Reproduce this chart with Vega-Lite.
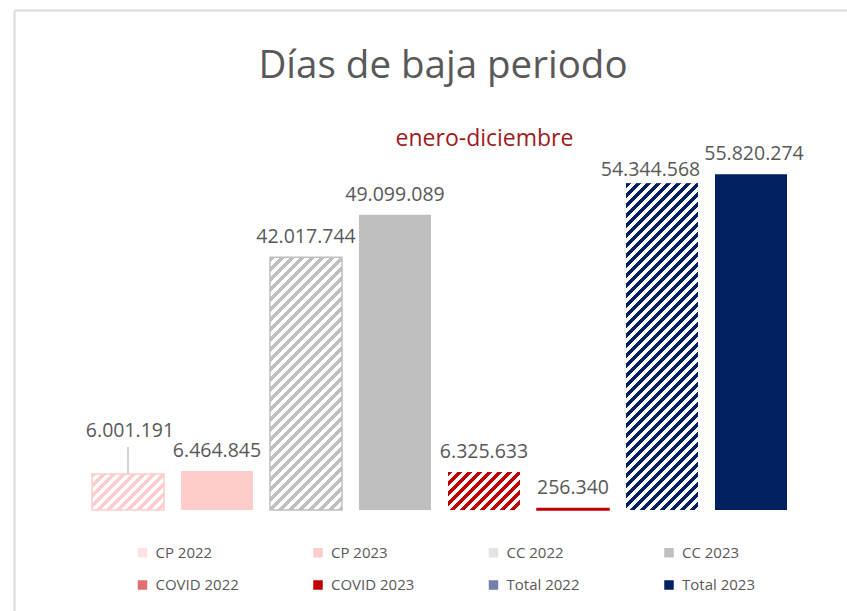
{
"$schema": "https://vega.github.io/schema/vega-lite/v6.json",
"width": 833,
"height": 601,
"autosize": {"type": "none"},
"padding": {"left": 14, "top": 10, "right": 0, "bottom": 0},
"background": "#ffffff",
"config": {
  "view": {"stroke": null},
  "locale": {"number": {"decimal": ",", "thousands": ".", "grouping": [3], "currency": ["", " €"]}}
},
"title": {"text": "Días de baja periodo", "anchor": "middle", "frame": "group", "font": "Open Sans", "fontSize": 38.5, "fontWeight": "normal", "color": "#595959", "baseline": "alphabetic", "offset": -106, "dx": 12.5},
"data": {"values": [
  {"cat": "CP 2022", "value": 6001191},
  {"cat": "CP 2023", "value": 6464845},
  {"cat": "CC 2022", "value": 42017744},
  {"cat": "CC 2023", "value": 49099089},
  {"cat": "COVID 2022", "value": 6325633},
  {"cat": "COVID 2023", "value": 256340},
  {"cat": "Total 2022", "value": 54344568},
  {"cat": "Total 2023", "value": 55820274}
]},
"encoding": {
  "x": {"field": "cat", "type": "nominal",
    "scale": {"domain": ["CP 2022","CP 2023","CC 2022","CC 2023","COVID 2022","COVID 2023","Total 2022","Total 2023"], "paddingInner": 0.19101, "paddingOuter": 0.77528, "align": 0.56522},
    "axis": {"orient": "top", "domain": true, "domainColor": "#d9d9d9", "domainWidth": 2, "labels": false, "ticks": false, "grid": false,
      "title": "enero-diciembre", "titleX": 470, "titleY": 135, "titleBaseline": "alphabetic", "titleAlign": "center", "titleFont": "Open Sans", "titleFontSize": 23, "titleFontWeight": "normal", "titleColor": "#9e1b1e"}},
  "y": {"field": "value", "type": "quantitative",
    "scale": {"domain": [-16794100, 83138900], "nice": false, "zero": false},
    "axis": {"orient": "left", "domain": true, "domainColor": "#d9d9d9", "domainWidth": 2, "labels": false, "ticks": false, "grid": false, "title": null}}
},
"layer": [
  {
    "mark": {"type": "bar", "strokeWidth": 1.5},
    "encoding": {
      "color": {"field": "cat", "type": "nominal",
        "scale": {"domain": ["CP 2022","CP 2023","CC 2022","CC 2023","COVID 2022","COVID 2023","Total 2022","Total 2023"],
          "range": ["#ffe3e3", "#ffcccc", "#e3e3e3", "#bfbfbf", "#e07070", "#c00000", "#7080a8", "#002060"]},
        "legend": {"orient": "none", "legendX": 121, "legendY": 535, "direction": "horizontal", "columns": 4, "title": null, "symbolType": "square", "symbolSize": 90, "symbolStrokeWidth": 0, "labelFont": "Open Sans", "labelFontSize": 15, "labelColor": "#595959", "labelOffset": 5.5, "columnPadding": 71.5, "rowPadding": 16.5, "gridAlign": "all"}},
      "stroke": {"condition": {"test": "datum.cat === 'COVID 2023'", "value": "#c00000"}, "value": null}
    }
  },
  {
    "transform": [{"filter": "datum.cat === 'CP 2022'"}],
    "mark": {"type": "bar", "stroke": "#ffcccc", "strokeWidth": 1.5,
      "fill": {"gradient": "linear", "x1": 0, "y1": 0, "x2": 4.43995, "y2": 2.22558, "stops": [
{"offset":0.0125,"color":"#ffcccc"},{"offset":0.0125,"color":"#fff"},{"offset":0.025,"color":"#fff"},{"offset":0.025,"color":"#ffcccc"},{"offset":0.0375,"color":"#ffcccc"},{"offset":0.0375,"color":"#fff"},{"offset":0.05,"color":"#fff"},{"offset":0.05,"color":"#ffcccc"},{"offset":0.0625,"color":"#ffcccc"},{"offset":0.0625,"color":"#fff"},{"offset":0.075,"color":"#fff"},{"offset":0.075,"color":"#ffcccc"},{"offset":0.0875,"color":"#ffcccc"},{"offset":0.0875,"color":"#fff"},{"offset":0.1,"color":"#fff"},{"offset":0.1,"color":"#ffcccc"},{"offset":0.1125,"color":"#ffcccc"},{"offset":0.1125,"color":"#fff"},{"offset":0.125,"color":"#fff"},{"offset":0.125,"color":"#ffcccc"},{"offset":0.1375,"color":"#ffcccc"},{"offset":0.1375,"color":"#fff"},{"offset":0.15,"color":"#fff"},{"offset":0.15,"color":"#ffcccc"},{"offset":0.1625,"color":"#ffcccc"},{"offset":0.1625,"color":"#fff"},{"offset":0.175,"color":"#fff"},{"offset":0.175,"color":"#ffcccc"},{"offset":0.1875,"color":"#ffcccc"},{"offset":0.1875,"color":"#fff"},{"offset":0.2,"color":"#fff"},{"offset":0.2,"color":"#ffcccc"},{"offset":0.2125,"color":"#ffcccc"},{"offset":0.2125,"color":"#fff"},{"offset":0.225,"color":"#fff"},{"offset":0.225,"color":"#ffcccc"},{"offset":0.2375,"color":"#ffcccc"},{"offset":0.2375,"color":"#fff"},{"offset":0.25,"color":"#fff"},{"offset":0.25,"color":"#ffcccc"},{"offset":0.2625,"color":"#ffcccc"},{"offset":0.2625,"color":"#fff"}
      ]}}
  },
  {
    "transform": [{"filter": "datum.cat === 'COVID 2022'"}],
    "mark": {"type": "bar",
      "fill": {"gradient": "linear", "x1": 0, "y1": 0, "x2": 4.34307, "y2": 2.29477, "stops": [
{"offset":0.0125,"color":"#c00000"},{"offset":0.0125,"color":"#fff"},{"offset":0.025,"color":"#fff"},{"offset":0.025,"color":"#c00000"},{"offset":0.0375,"color":"#c00000"},{"offset":0.0375,"color":"#fff"},{"offset":0.05,"color":"#fff"},{"offset":0.05,"color":"#c00000"},{"offset":0.0625,"color":"#c00000"},{"offset":0.0625,"color":"#fff"},{"offset":0.075,"color":"#fff"},{"offset":0.075,"color":"#c00000"},{"offset":0.0875,"color":"#c00000"},{"offset":0.0875,"color":"#fff"},{"offset":0.1,"color":"#fff"},{"offset":0.1,"color":"#c00000"},{"offset":0.1125,"color":"#c00000"},{"offset":0.1125,"color":"#fff"},{"offset":0.125,"color":"#fff"},{"offset":0.125,"color":"#c00000"},{"offset":0.1375,"color":"#c00000"},{"offset":0.1375,"color":"#fff"},{"offset":0.15,"color":"#fff"},{"offset":0.15,"color":"#c00000"},{"offset":0.1625,"color":"#c00000"},{"offset":0.1625,"color":"#fff"},{"offset":0.175,"color":"#fff"},{"offset":0.175,"color":"#c00000"},{"offset":0.1875,"color":"#c00000"},{"offset":0.1875,"color":"#fff"},{"offset":0.2,"color":"#fff"},{"offset":0.2,"color":"#c00000"},{"offset":0.2125,"color":"#c00000"},{"offset":0.2125,"color":"#fff"},{"offset":0.225,"color":"#fff"},{"offset":0.225,"color":"#c00000"},{"offset":0.2375,"color":"#c00000"},{"offset":0.2375,"color":"#fff"},{"offset":0.25,"color":"#fff"},{"offset":0.25,"color":"#c00000"},{"offset":0.2625,"color":"#c00000"},{"offset":0.2625,"color":"#fff"},{"offset":0.275,"color":"#fff"},{"offset":0.275,"color":"#c00000"}
      ]}}
  },
  {
    "transform": [{"filter": "datum.cat === 'CC 2022'"}],
    "mark": {"type": "bar", "stroke": "#bfbfbf", "strokeWidth": 1.5,
      "fill": {"gradient": "linear", "x1": 0, "y1": 0, "x2": 0.41715, "y2": 1.46407, "stops": [
{"offset":0.0125,"color":"#bfbfbf"},{"offset":0.0125,"color":"#fff"},{"offset":0.025,"color":"#fff"},{"offset":0.025,"color":"#bfbfbf"},{"offset":0.0375,"color":"#bfbfbf"},{"offset":0.0375,"color":"#fff"},{"offset":0.05,"color":"#fff"},{"offset":0.05,"color":"#bfbfbf"},{"offset":0.0625,"color":"#bfbfbf"},{"offset":0.0625,"color":"#fff"},{"offset":0.075,"color":"#fff"},{"offset":0.075,"color":"#bfbfbf"},{"offset":0.0875,"color":"#bfbfbf"},{"offset":0.0875,"color":"#fff"},{"offset":0.1,"color":"#fff"},{"offset":0.1,"color":"#bfbfbf"},{"offset":0.1125,"color":"#bfbfbf"},{"offset":0.1125,"color":"#fff"},{"offset":0.125,"color":"#fff"},{"offset":0.125,"color":"#bfbfbf"},{"offset":0.1375,"color":"#bfbfbf"},{"offset":0.1375,"color":"#fff"},{"offset":0.15,"color":"#fff"},{"offset":0.15,"color":"#bfbfbf"},{"offset":0.1625,"color":"#bfbfbf"},{"offset":0.1625,"color":"#fff"},{"offset":0.175,"color":"#fff"},{"offset":0.175,"color":"#bfbfbf"},{"offset":0.1875,"color":"#bfbfbf"},{"offset":0.1875,"color":"#fff"},{"offset":0.2,"color":"#fff"},{"offset":0.2,"color":"#bfbfbf"},{"offset":0.2125,"color":"#bfbfbf"},{"offset":0.2125,"color":"#fff"},{"offset":0.225,"color":"#fff"},{"offset":0.225,"color":"#bfbfbf"},{"offset":0.2375,"color":"#bfbfbf"},{"offset":0.2375,"color":"#fff"},{"offset":0.25,"color":"#fff"},{"offset":0.25,"color":"#bfbfbf"},{"offset":0.2625,"color":"#bfbfbf"},{"offset":0.2625,"color":"#fff"},{"offset":0.275,"color":"#fff"},{"offset":0.275,"color":"#bfbfbf"},{"offset":0.2875,"color":"#bfbfbf"},{"offset":0.2875,"color":"#fff"},{"offset":0.3,"color":"#fff"},{"offset":0.3,"color":"#bfbfbf"},{"offset":0.3125,"color":"#bfbfbf"},{"offset":0.3125,"color":"#fff"},{"offset":0.325,"color":"#fff"},{"offset":0.325,"color":"#bfbfbf"},{"offset":0.3375,"color":"#bfbfbf"},{"offset":0.3375,"color":"#fff"},{"offset":0.35,"color":"#fff"},{"offset":0.35,"color":"#bfbfbf"},{"offset":0.3625,"color":"#bfbfbf"},{"offset":0.3625,"color":"#fff"},{"offset":0.375,"color":"#fff"},{"offset":0.375,"color":"#bfbfbf"},{"offset":0.3875,"color":"#bfbfbf"},{"offset":0.3875,"color":"#fff"},{"offset":0.4,"color":"#fff"},{"offset":0.4,"color":"#bfbfbf"},{"offset":0.4125,"color":"#bfbfbf"},{"offset":0.4125,"color":"#fff"},{"offset":0.425,"color":"#fff"},{"offset":0.425,"color":"#bfbfbf"},{"offset":0.4375,"color":"#bfbfbf"},{"offset":0.4375,"color":"#fff"},{"offset":0.45,"color":"#fff"},{"offset":0.45,"color":"#bfbfbf"},{"offset":0.4625,"color":"#bfbfbf"},{"offset":0.4625,"color":"#fff"},{"offset":0.475,"color":"#fff"},{"offset":0.475,"color":"#bfbfbf"},{"offset":0.4875,"color":"#bfbfbf"},{"offset":0.4875,"color":"#fff"},{"offset":0.5,"color":"#fff"},{"offset":0.5,"color":"#bfbfbf"},{"offset":0.5125,"color":"#bfbfbf"},{"offset":0.5125,"color":"#fff"},{"offset":0.525,"color":"#fff"},{"offset":0.525,"color":"#bfbfbf"},{"offset":0.5375,"color":"#bfbfbf"},{"offset":0.5375,"color":"#fff"},{"offset":0.55,"color":"#fff"},{"offset":0.55,"color":"#bfbfbf"},{"offset":0.5625,"color":"#bfbfbf"},{"offset":0.5625,"color":"#fff"},{"offset":0.575,"color":"#fff"},{"offset":0.575,"color":"#bfbfbf"},{"offset":0.5875,"color":"#bfbfbf"},{"offset":0.5875,"color":"#fff"},{"offset":0.6,"color":"#fff"},{"offset":0.6,"color":"#bfbfbf"},{"offset":0.6125,"color":"#bfbfbf"},{"offset":0.6125,"color":"#fff"},{"offset":0.625,"color":"#fff"},{"offset":0.625,"color":"#bfbfbf"},{"offset":0.6375,"color":"#bfbfbf"},{"offset":0.6375,"color":"#fff"},{"offset":0.65,"color":"#fff"},{"offset":0.65,"color":"#bfbfbf"},{"offset":0.6625,"color":"#bfbfbf"},{"offset":0.6625,"color":"#fff"},{"offset":0.675,"color":"#fff"},{"offset":0.675,"color":"#bfbfbf"},{"offset":0.6875,"color":"#bfbfbf"},{"offset":0.6875,"color":"#fff"},{"offset":0.7,"color":"#fff"},{"offset":0.7,"color":"#bfbfbf"},{"offset":0.7125,"color":"#bfbfbf"},{"offset":0.7125,"color":"#fff"},{"offset":0.725,"color":"#fff"},{"offset":0.725,"color":"#bfbfbf"},{"offset":0.7375,"color":"#bfbfbf"},{"offset":0.7375,"color":"#fff"},{"offset":0.75,"color":"#fff"},{"offset":0.75,"color":"#bfbfbf"},{"offset":0.7625,"color":"#bfbfbf"},{"offset":0.7625,"color":"#fff"},{"offset":0.775,"color":"#fff"},{"offset":0.775,"color":"#bfbfbf"},{"offset":0.7875,"color":"#bfbfbf"},{"offset":0.7875,"color":"#fff"},{"offset":0.8,"color":"#fff"},{"offset":0.8,"color":"#bfbfbf"}
      ]}}
  },
  {
    "transform": [{"filter": "datum.cat === 'Total 2022'"}],
    "mark": {"type": "bar",
      "fill": {"gradient": "linear", "x1": 0, "y1": 0, "x2": 0.25714, "y2": 1.16723, "stops": [
{"offset":0.0125,"color":"#002060"},{"offset":0.0125,"color":"#fff"},{"offset":0.025,"color":"#fff"},{"offset":0.025,"color":"#002060"},{"offset":0.0375,"color":"#002060"},{"offset":0.0375,"color":"#fff"},{"offset":0.05,"color":"#fff"},{"offset":0.05,"color":"#002060"},{"offset":0.0625,"color":"#002060"},{"offset":0.0625,"color":"#fff"},{"offset":0.075,"color":"#fff"},{"offset":0.075,"color":"#002060"},{"offset":0.0875,"color":"#002060"},{"offset":0.0875,"color":"#fff"},{"offset":0.1,"color":"#fff"},{"offset":0.1,"color":"#002060"},{"offset":0.1125,"color":"#002060"},{"offset":0.1125,"color":"#fff"},{"offset":0.125,"color":"#fff"},{"offset":0.125,"color":"#002060"},{"offset":0.1375,"color":"#002060"},{"offset":0.1375,"color":"#fff"},{"offset":0.15,"color":"#fff"},{"offset":0.15,"color":"#002060"},{"offset":0.1625,"color":"#002060"},{"offset":0.1625,"color":"#fff"},{"offset":0.175,"color":"#fff"},{"offset":0.175,"color":"#002060"},{"offset":0.1875,"color":"#002060"},{"offset":0.1875,"color":"#fff"},{"offset":0.2,"color":"#fff"},{"offset":0.2,"color":"#002060"},{"offset":0.2125,"color":"#002060"},{"offset":0.2125,"color":"#fff"},{"offset":0.225,"color":"#fff"},{"offset":0.225,"color":"#002060"},{"offset":0.2375,"color":"#002060"},{"offset":0.2375,"color":"#fff"},{"offset":0.25,"color":"#fff"},{"offset":0.25,"color":"#002060"},{"offset":0.2625,"color":"#002060"},{"offset":0.2625,"color":"#fff"},{"offset":0.275,"color":"#fff"},{"offset":0.275,"color":"#002060"},{"offset":0.2875,"color":"#002060"},{"offset":0.2875,"color":"#fff"},{"offset":0.3,"color":"#fff"},{"offset":0.3,"color":"#002060"},{"offset":0.3125,"color":"#002060"},{"offset":0.3125,"color":"#fff"},{"offset":0.325,"color":"#fff"},{"offset":0.325,"color":"#002060"},{"offset":0.3375,"color":"#002060"},{"offset":0.3375,"color":"#fff"},{"offset":0.35,"color":"#fff"},{"offset":0.35,"color":"#002060"},{"offset":0.3625,"color":"#002060"},{"offset":0.3625,"color":"#fff"},{"offset":0.375,"color":"#fff"},{"offset":0.375,"color":"#002060"},{"offset":0.3875,"color":"#002060"},{"offset":0.3875,"color":"#fff"},{"offset":0.4,"color":"#fff"},{"offset":0.4,"color":"#002060"},{"offset":0.4125,"color":"#002060"},{"offset":0.4125,"color":"#fff"},{"offset":0.425,"color":"#fff"},{"offset":0.425,"color":"#002060"},{"offset":0.4375,"color":"#002060"},{"offset":0.4375,"color":"#fff"},{"offset":0.45,"color":"#fff"},{"offset":0.45,"color":"#002060"},{"offset":0.4625,"color":"#002060"},{"offset":0.4625,"color":"#fff"},{"offset":0.475,"color":"#fff"},{"offset":0.475,"color":"#002060"},{"offset":0.4875,"color":"#002060"},{"offset":0.4875,"color":"#fff"},{"offset":0.5,"color":"#fff"},{"offset":0.5,"color":"#002060"},{"offset":0.5125,"color":"#002060"},{"offset":0.5125,"color":"#fff"},{"offset":0.525,"color":"#fff"},{"offset":0.525,"color":"#002060"},{"offset":0.5375,"color":"#002060"},{"offset":0.5375,"color":"#fff"},{"offset":0.55,"color":"#fff"},{"offset":0.55,"color":"#002060"},{"offset":0.5625,"color":"#002060"},{"offset":0.5625,"color":"#fff"},{"offset":0.575,"color":"#fff"},{"offset":0.575,"color":"#002060"},{"offset":0.5875,"color":"#002060"},{"offset":0.5875,"color":"#fff"},{"offset":0.6,"color":"#fff"},{"offset":0.6,"color":"#002060"},{"offset":0.6125,"color":"#002060"},{"offset":0.6125,"color":"#fff"},{"offset":0.625,"color":"#fff"},{"offset":0.625,"color":"#002060"},{"offset":0.6375,"color":"#002060"},{"offset":0.6375,"color":"#fff"},{"offset":0.65,"color":"#fff"},{"offset":0.65,"color":"#002060"},{"offset":0.6625,"color":"#002060"},{"offset":0.6625,"color":"#fff"},{"offset":0.675,"color":"#fff"},{"offset":0.675,"color":"#002060"},{"offset":0.6875,"color":"#002060"},{"offset":0.6875,"color":"#fff"},{"offset":0.7,"color":"#fff"},{"offset":0.7,"color":"#002060"},{"offset":0.7125,"color":"#002060"},{"offset":0.7125,"color":"#fff"},{"offset":0.725,"color":"#fff"},{"offset":0.725,"color":"#002060"},{"offset":0.7375,"color":"#002060"},{"offset":0.7375,"color":"#fff"},{"offset":0.75,"color":"#fff"},{"offset":0.75,"color":"#002060"},{"offset":0.7625,"color":"#002060"},{"offset":0.7625,"color":"#fff"},{"offset":0.775,"color":"#fff"},{"offset":0.775,"color":"#002060"},{"offset":0.7875,"color":"#002060"},{"offset":0.7875,"color":"#fff"},{"offset":0.8,"color":"#fff"},{"offset":0.8,"color":"#002060"},{"offset":0.8125,"color":"#002060"},{"offset":0.8125,"color":"#fff"},{"offset":0.825,"color":"#fff"},{"offset":0.825,"color":"#002060"},{"offset":0.8375,"color":"#002060"},{"offset":0.8375,"color":"#fff"},{"offset":0.85,"color":"#fff"},{"offset":0.85,"color":"#002060"},{"offset":0.8625,"color":"#002060"},{"offset":0.8625,"color":"#fff"},{"offset":0.875,"color":"#fff"},{"offset":0.875,"color":"#002060"},{"offset":0.8875,"color":"#002060"},{"offset":0.8875,"color":"#fff"},{"offset":0.9,"color":"#fff"},{"offset":0.9,"color":"#002060"},{"offset":0.9125,"color":"#002060"},{"offset":0.9125,"color":"#fff"},{"offset":0.925,"color":"#fff"},{"offset":0.925,"color":"#002060"},{"offset":0.9375,"color":"#002060"},{"offset":0.9375,"color":"#fff"},{"offset":0.95,"color":"#fff"},{"offset":0.95,"color":"#002060"},{"offset":0.9625,"color":"#002060"},{"offset":0.9625,"color":"#fff"},{"offset":0.975,"color":"#fff"},{"offset":0.975,"color":"#002060"},{"offset":0.9875,"color":"#002060"},{"offset":0.9875,"color":"#fff"}
      ]}}
  },
  {
    "transform": [{"filter": {"field": "cat", "oneOf": ["CP 2023", "CC 2022", "CC 2023", "COVID 2022", "COVID 2023"]}}],
    "mark": {"type": "text", "font": "Open Sans", "fontSize": 19.5, "fill": "#595959", "baseline": "alphabetic", "dy": -14},
    "encoding": {"text": {"field": "value", "type": "quantitative", "format": ",d"}}
  },
  {
    "transform": [{"filter": "datum.cat === 'CP 2022'"}],
    "mark": {"type": "text", "font": "Open Sans", "fontSize": 19.5, "fill": "#595959", "baseline": "alphabetic", "dy": -37, "dx": 2},
    "encoding": {"text": {"field": "value", "type": "quantitative", "format": ",d"}}
  },
  {
    "transform": [{"filter": "datum.cat === 'CP 2022'"}],
    "mark": {"type": "rule", "color": "#a6a6a6", "strokeWidth": 1, "y2Offset": -27},
    "encoding": {"y2": {"field": "value"}}
  },
  {
    "transform": [{"filter": "datum.cat === 'Total 2022'"}],
    "mark": {"type": "text", "font": "Open Sans", "fontSize": 19.5, "fill": "#595959", "baseline": "alphabetic", "dy": -7, "dx": -11.5},
    "encoding": {"text": {"field": "value", "type": "quantitative", "format": ",d"}}
  },
  {
    "transform": [{"filter": "datum.cat === 'Total 2023'"}],
    "mark": {"type": "text", "font": "Open Sans", "fontSize": 19.5, "fill": "#595959", "baseline": "alphabetic", "dy": -14, "dx": 3},
    "encoding": {"text": {"field": "value", "type": "quantitative", "format": ",d"}}
  }
]
}
